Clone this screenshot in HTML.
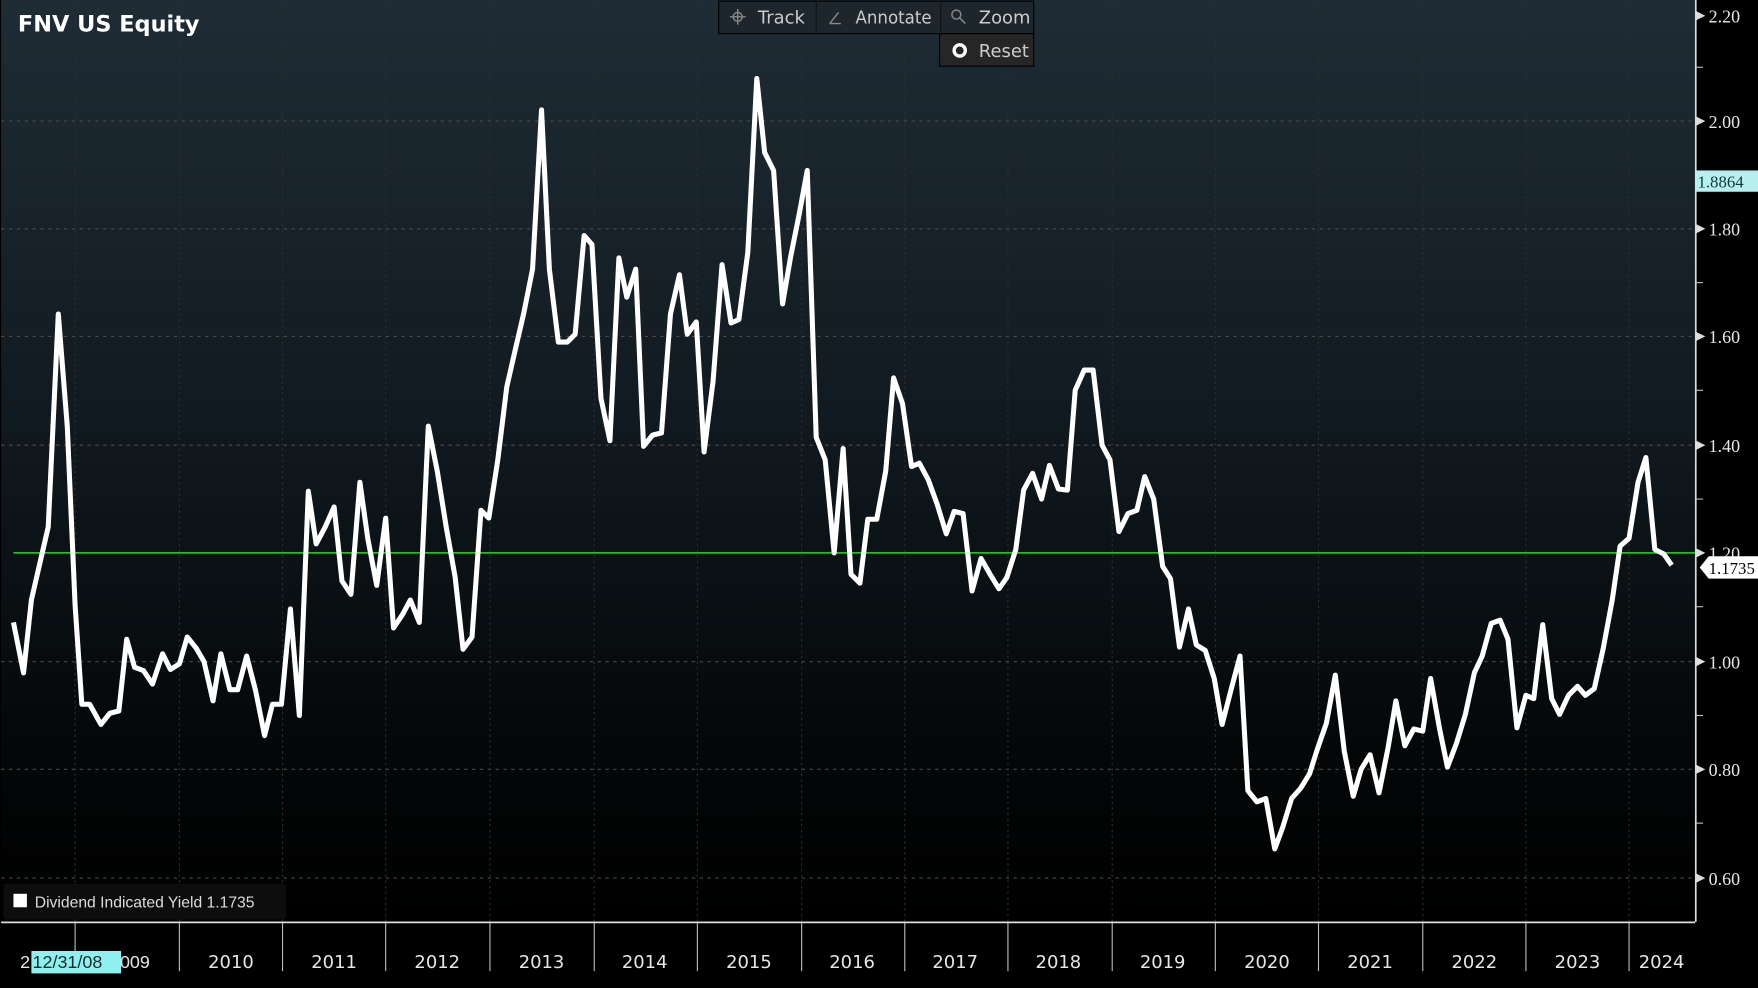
<!DOCTYPE html>
<html><head><meta charset="utf-8"><style>
html,body{margin:0;padding:0;background:#000;width:1758px;height:988px;overflow:hidden}
svg{display:block}
text{font-family:"DejaVu Sans","Liberation Sans",sans-serif}
</style></head><body>
<svg width="1758" height="988" viewBox="0 0 1568 881" preserveAspectRatio="none" xmlns="http://www.w3.org/2000/svg">
<defs>
<linearGradient id="bg" x1="0" y1="0" x2="0" y2="1">
<stop offset="0" stop-color="#1f2c35"/>
<stop offset="0.45" stop-color="#111a20"/>
<stop offset="0.85" stop-color="#030506"/>
<stop offset="1" stop-color="#000"/>
</linearGradient>
</defs>
<rect x="0" y="0" width="1568" height="881" fill="#000"/>
<rect x="1" y="0" width="1511" height="822" fill="url(#bg)"/>
<g stroke="#4a4a4a" stroke-width="1" stroke-dasharray="3,4" fill="none">
<line x1="1" y1="108" x2="1512" y2="108"/><line x1="1" y1="204" x2="1512" y2="204"/>
<line x1="1" y1="300" x2="1512" y2="300"/><line x1="1" y1="397" x2="1512" y2="397"/>
<line x1="1" y1="590" x2="1512" y2="590"/><line x1="1" y1="686" x2="1512" y2="686"/>
<line x1="1" y1="783" x2="1512" y2="783"/>
</g>
<g stroke="#2e2e2e" stroke-width="1" stroke-dasharray="2,3">
<line x1="67" y1="0" x2="67" y2="822"/><line x1="160" y1="0" x2="160" y2="822"/><line x1="252" y1="0" x2="252" y2="822"/><line x1="344" y1="0" x2="344" y2="822"/><line x1="437" y1="0" x2="437" y2="822"/><line x1="530" y1="0" x2="530" y2="822"/><line x1="622" y1="0" x2="622" y2="822"/><line x1="715" y1="0" x2="715" y2="822"/><line x1="807" y1="0" x2="807" y2="822"/><line x1="899" y1="0" x2="899" y2="822"/><line x1="992" y1="0" x2="992" y2="822"/><line x1="1084" y1="0" x2="1084" y2="822"/><line x1="1176" y1="0" x2="1176" y2="822"/><line x1="1269" y1="0" x2="1269" y2="822"/><line x1="1361" y1="0" x2="1361" y2="822"/><line x1="1453" y1="0" x2="1453" y2="822"/>
</g>
<line x1="12" y1="493" x2="1512" y2="493" stroke="#22dd22" stroke-width="1.3"/>
<polyline fill="none" stroke="#fff" stroke-width="4.5" stroke-linejoin="round" points="12,555 21,600 28,535 43,470 52,280 60,380 67,540 73,628 80,628 90,646 98,636 106,634 113,570 120,595 128,598 136,610 145,583 152,597 160,592 167,568 175,578 182,590 190,625 197,583 205,615 212,615 220,585 228,616 236,656 243,628 251,628 259,543 267,638 275,438 282,485 290,470 298,452 305,518 313,530 321,430 328,480 336,522 344,462 351,560 359,548 366,535 374,555 382,380 390,420 398,470 406,515 413,579 421,568 429,455 436,462 444,410 452,345 460,310 467,280 475,240 483,98 490,240 498,305 506,305 513,298 521,210 528,218 536,355 544,393 552,230 559,265 567,240 574,398 582,388 590,386 598,280 606,245 613,298 621,287 628,403 636,340 644,236 652,288 659,285 667,225 675,70 682,136 690,152 698,271 705,230 713,190 720,152 728,390 736,410 744,493 752,400 759,512 767,520 774,463 782,463 790,420 797,337 805,360 813,416 820,413 828,428 836,450 844,476 851,456 859,458 867,527 875,498 883,512 891,525 898,515 906,490 913,437 921,422 929,445 936,415 944,436 952,437 959,348 967,330 975,330 983,397 990,410 998,474 1006,458 1014,455 1021,425 1029,445 1037,505 1044,516 1052,577 1060,543 1067,575 1075,580 1083,605 1090,646 1098,615 1106,585 1113,705 1121,715 1129,712 1137,757 1144,738 1152,712 1160,703 1168,690 1175,668 1183,645 1191,602 1199,670 1207,710 1214,686 1222,673 1230,707 1238,667 1245,625 1253,665 1261,650 1269,652 1276,605 1284,650 1291,684 1299,663 1307,637 1315,600 1322,585 1330,556 1338,553 1345,570 1353,649 1361,620 1368,623 1376,557 1384,623 1391,637 1399,620 1407,612 1414,620 1422,614 1430,578 1438,535 1445,487 1453,480 1461,430 1468,408 1476,490 1484,494 1491,504"/>
<line x1="1512.5" y1="0" x2="1512.5" y2="822" stroke="#ddd" stroke-width="1.5"/>
<line x1="1" y1="822.5" x2="1512" y2="822.5" stroke="#ddd" stroke-width="1.5"/>
<g stroke="#bbb" stroke-width="1">
<line x1="67" y1="823" x2="67" y2="866"/><line x1="160" y1="823" x2="160" y2="866"/><line x1="252" y1="823" x2="252" y2="866"/><line x1="344" y1="823" x2="344" y2="866"/><line x1="437" y1="823" x2="437" y2="866"/><line x1="530" y1="823" x2="530" y2="866"/><line x1="622" y1="823" x2="622" y2="866"/><line x1="715" y1="823" x2="715" y2="866"/><line x1="807" y1="823" x2="807" y2="866"/><line x1="899" y1="823" x2="899" y2="866"/><line x1="992" y1="823" x2="992" y2="866"/><line x1="1084" y1="823" x2="1084" y2="866"/><line x1="1176" y1="823" x2="1176" y2="866"/><line x1="1269" y1="823" x2="1269" y2="866"/><line x1="1361" y1="823" x2="1361" y2="866"/><line x1="1453" y1="823" x2="1453" y2="866"/>
<line x1="1513" y1="60" x2="1519" y2="60"/><line x1="1513" y1="156" x2="1519" y2="156"/><line x1="1513" y1="252" x2="1519" y2="252"/><line x1="1513" y1="348" x2="1519" y2="348"/><line x1="1513" y1="445" x2="1519" y2="445"/><line x1="1513" y1="541" x2="1519" y2="541"/><line x1="1513" y1="638" x2="1519" y2="638"/><line x1="1513" y1="734" x2="1519" y2="734"/>
</g>
<g fill="#ddd">
<polygon points="1513,10 1521,14 1513,18"/><polygon points="1513,104 1521,108 1513,112"/><polygon points="1513,200 1521,204 1513,208"/><polygon points="1513,296 1521,300 1513,304"/><polygon points="1513,393 1521,397 1513,401"/><polygon points="1513,489 1521,493 1513,497"/><polygon points="1513,586 1521,590 1513,594"/><polygon points="1513,682 1521,686 1513,690"/><polygon points="1513,779 1521,783 1513,787"/>
</g>
<g fill="#e6e6e6" font-size="16">
<text x="1524" y="20" style="font-family:'Liberation Serif',serif">2.20</text>
<text x="1524" y="114" style="font-family:'Liberation Serif',serif">2.00</text>
<text x="1524" y="210" style="font-family:'Liberation Serif',serif">1.80</text>
<text x="1524" y="306" style="font-family:'Liberation Serif',serif">1.60</text>
<text x="1524" y="403" style="font-family:'Liberation Serif',serif">1.40</text>
<text x="1524" y="499" style="font-family:'Liberation Serif',serif">1.20</text>
<text x="1524" y="596" style="font-family:'Liberation Serif',serif">1.00</text>
<text x="1524" y="692" style="font-family:'Liberation Serif',serif">0.80</text>
<text x="1524" y="789" style="font-family:'Liberation Serif',serif">0.60</text>
</g>
<rect x="1512" y="152" width="56" height="19" fill="#b8f0f0"/>
<text x="1514" y="167" font-size="15" fill="#0a3a3a" style="font-family:'Liberation Serif',serif">1.8864</text>
<polygon points="1516,506 1524,496 1568,496 1568,516 1524,516" fill="#fff"/>
<text x="1524" y="512" font-size="15" fill="#000" style="font-family:'Liberation Serif',serif">1.1735</text>
<g fill="#e6e6e6" font-size="16" text-anchor="middle" style="font-family:'Liberation Sans',sans-serif">
<text x="206" y="863">2010</text><text x="298" y="863">2011</text><text x="390" y="863">2012</text><text x="483" y="863">2013</text><text x="575" y="863">2014</text><text x="668" y="863">2015</text><text x="760" y="863">2016</text><text x="852" y="863">2017</text><text x="944" y="863">2018</text><text x="1037" y="863">2019</text><text x="1130" y="863">2020</text><text x="1222" y="863">2021</text><text x="1315" y="863">2022</text><text x="1407" y="863">2023</text><text x="1482" y="863">2024</text>
</g>
<rect x="28" y="848" width="80" height="20" fill="#8ff0f0"/>
<text x="29" y="863" font-size="16" fill="#1a2a2a" style="font-family:'Liberation Sans',sans-serif">12/31/08</text>
<text x="18" y="863" font-size="16" fill="#e6e6e6" style="font-family:'Liberation Sans',sans-serif">2</text>
<text x="107" y="863" font-size="16" fill="#e6e6e6" style="font-family:'Liberation Sans',sans-serif">009</text>
<rect x="3" y="788" width="252" height="32" rx="3" fill="#0d0d0d"/>
<rect x="12" y="797" width="12" height="12" fill="#fff"/>
<text x="31" y="809" font-size="14" fill="#ddd" style="font-family:'Liberation Sans',sans-serif">Dividend Indicated Yield  1.1735</text>
<text x="16" y="28" font-size="20" font-weight="bold" fill="#fff" style="font-family:'DejaVu Sans',sans-serif">FNV US Equity</text>
<rect x="641" y="1" width="281" height="29" fill="#1c262c" stroke="#000" stroke-width="1"/>
<line x1="728" y1="1" x2="728" y2="30" stroke="#111"/><line x1="839" y1="1" x2="839" y2="30" stroke="#111"/>
<rect x="838" y="30" width="84" height="29" fill="#262626" stroke="#000"/>
<g fill="#ccc" font-size="16" style="font-family:'DejaVu Sans',sans-serif">
<text x="676" y="21">Track</text><text x="763" y="21" textLength="68" lengthAdjust="spacingAndGlyphs">Annotate</text><text x="873" y="21">Zoom</text><text x="873" y="51">Reset</text>
</g>
<g stroke="#888" stroke-width="1.3" fill="none">
<circle cx="658" cy="15" r="4"/><line x1="651" y1="15" x2="665" y2="15"/><line x1="658" y1="8" x2="658" y2="22"/>
<line x1="740" y1="21" x2="748" y2="11"/><line x1="740" y1="21" x2="750" y2="21"/>
<circle cx="853" cy="13" r="4"/><line x1="856" y1="16" x2="861" y2="21"/>
</g>
<circle cx="856" cy="45" r="5" fill="none" stroke="#fff" stroke-width="3"/>
</svg>
</body></html>
